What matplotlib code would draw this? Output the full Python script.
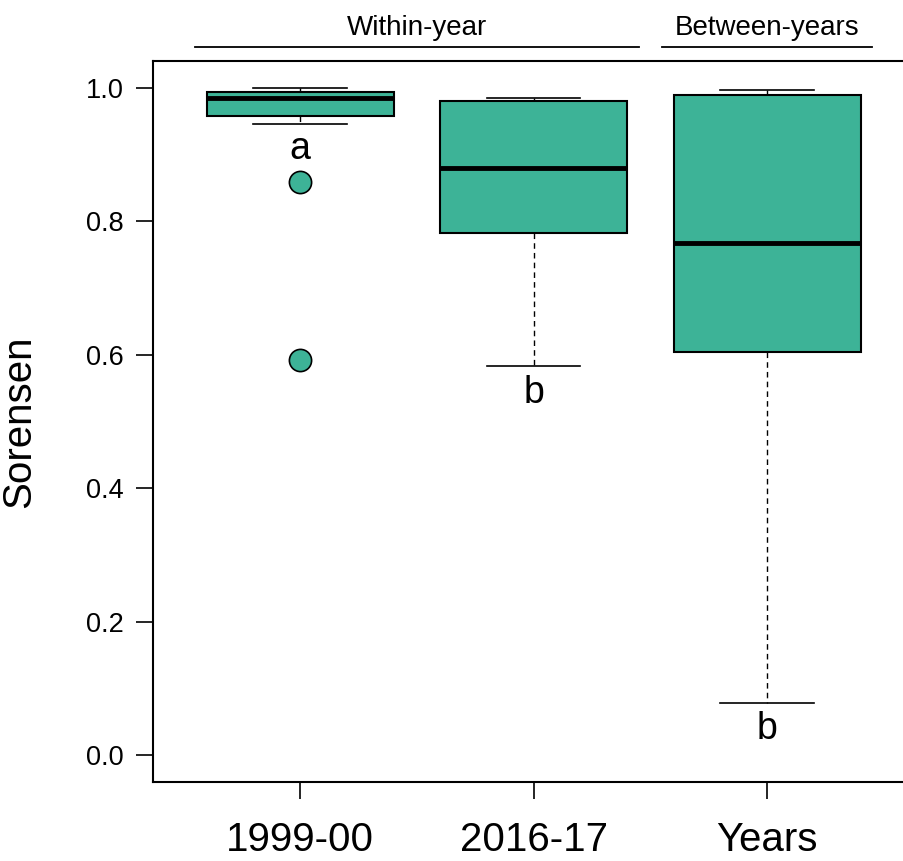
import matplotlib.pyplot as plt
from matplotlib import transforms

plt.rcParams['font.family'] = ['Liberation Sans', 'DejaVu Sans']

# Datos
groups = ['1999-00', '2016-17', 'Years']
whislo = [0.945, 0.583, 0.078]
q1 = [0.958, 0.783, 0.604]
med = [0.984, 0.880, 0.768]
q3 = [0.994, 0.980, 0.989]
whishi = [1.000, 0.985, 0.996]
fliers = [[0.859, 0.592], [], []]
letters = ['a', 'b', 'b']
letter_y = [0.908, 0.543, 0.039]

green = '#3db397'

fig = plt.figure(figsize=(9.04, 8.61), dpi=100)
ax = fig.add_axes([0.1692, 0.0918, 0.8396, 0.8374])

stats = []
for i in range(len(groups)):
    stats.append({'whislo': whislo[i], 'q1': q1[i], 'med': med[i], 'q3': q3[i],
                  'whishi': whishi[i], 'fliers': fliers[i], 'label': groups[i]})

ax.bxp(stats, positions=[1, 2, 3], widths=0.8, patch_artist=True,
       boxprops=dict(facecolor=green, edgecolor='black', linewidth=1.5),
       medianprops=dict(color='black', linewidth=3.5, solid_capstyle='butt'),
       whiskerprops=dict(color='black', linewidth=1.0, linestyle=(0, (4, 3))),
       capprops=dict(color='black', linewidth=1.2),
       capwidths=0.4,
       flierprops=dict(marker='o', markerfacecolor=green, markeredgecolor='black',
                       markersize=16, markeredgewidth=1.2))

for i in range(len(groups)):
    ax.text(i + 1, letter_y[i], letters[i], ha='center', va='center', fontsize=27)

ax.set_xlim(0.37, 3.62)
ax.set_ylim(-0.04, 1.04)
ax.set_yticks([0.0, 0.2, 0.4, 0.6, 0.8, 1.0])
ax.set_yticklabels(['0.0', '0.2', '0.4', '0.6', '0.8', '1.0'])
ax.set_xticks([1, 2, 3])
ax.set_xticklabels(groups, fontsize=29)
ax.tick_params(axis='y', labelsize=19.5, length=12, width=1.2, pad=9)
ax.tick_params(axis='x', length=12, width=1.2, pad=16)
ax.set_ylabel('Sorensen', fontsize=29)
ax.yaxis.set_label_coords(-0.1515, 0.5)
for s in ax.spines.values():
    s.set_linewidth(1.5)

# Lineas y textos de arriba
trans = transforms.blended_transform_factory(ax.transData, ax.transAxes)
ax.plot([0.55, 2.45], [1.019, 1.019], color='black', lw=1.3, transform=trans, clip_on=False)
ax.plot([2.55, 3.45], [1.019, 1.019], color='black', lw=1.3, transform=trans, clip_on=False)
ax.text(1.5, 1.036, 'Within-year', ha='center', va='baseline', fontsize=20, transform=trans)
ax.text(3.0, 1.036, 'Between-years', ha='center', va='baseline', fontsize=20, transform=trans)

plt.savefig('out.png', dpi=100)
